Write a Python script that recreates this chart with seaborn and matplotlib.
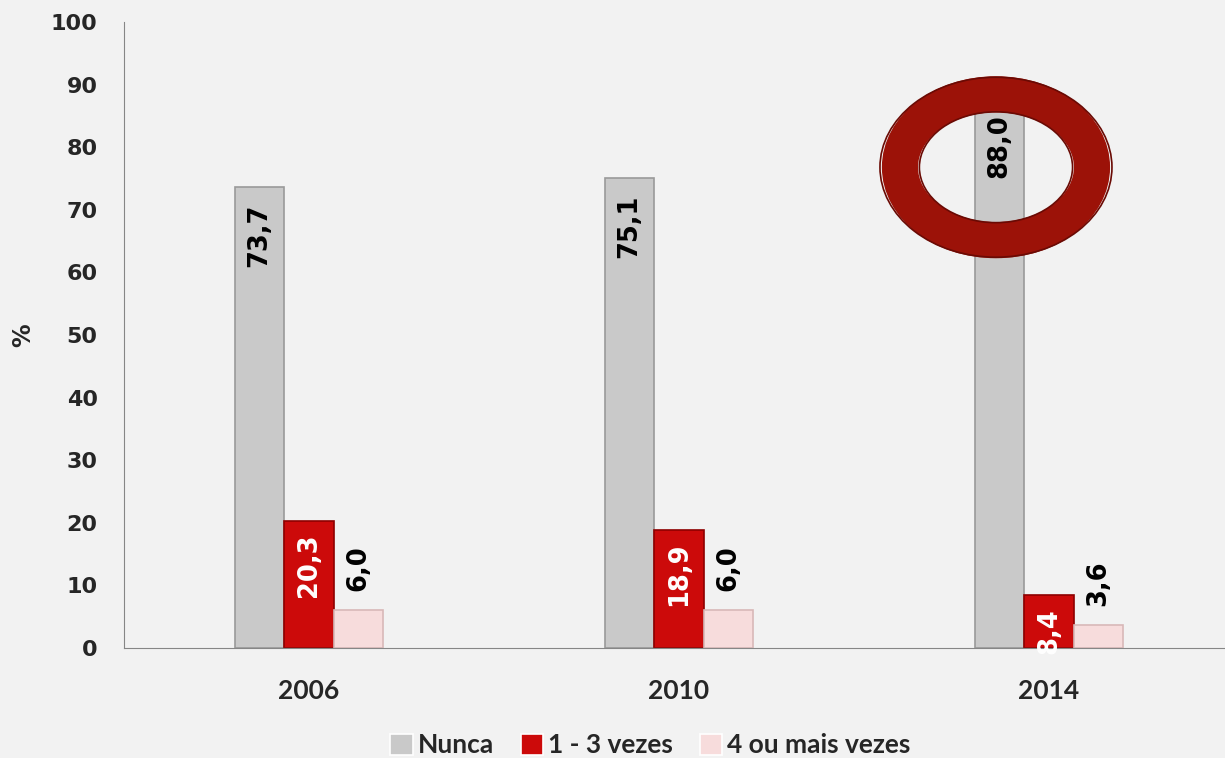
import pandas as pd
import seaborn as sns
import matplotlib.pyplot as plt
from matplotlib.patches import Ellipse

# chart values
anos = ['2006', '2010', '2014']
categorias = ['Nunca', '1 - 3 vezes', '4 ou mais vezes']
nunca = [73.7, 75.1, 88.0]
uma_a_tres = [20.3, 18.9, 8.4]
quatro_mais = [6.0, 6.0, 3.6]

cores = ['#C9C9C9', '#CC0A0A', '#F7DCDC']
bordas = ['#9A9A9A', '#8E0000', '#D8B8B8']

df = pd.DataFrame({
    'ano': anos * 3,
    'categoria': [c for c in categorias for _ in anos],
    'valor': nunca + uma_a_tres + quatro_mais,
})

sns.set_style('white')
plt.rcParams['font.family'] = ['DejaVu Sans']

fig = plt.figure(figsize=(12.25, 7.58), dpi=100, facecolor='#F2F2F2')
# axes runs past the right edge, as in the original
ax = fig.add_axes([124 / 1225, 1 - 648 / 758, 1110 / 1225, 626 / 758])
ax.set_facecolor('#F2F2F2')

sns.barplot(data=df, x='ano', y='valor', hue='categoria', hue_order=categorias,
            palette=cores, saturation=1, width=0.4, gap=0, linewidth=1.2,
            errorbar=None, ax=ax)

for cont, borda in zip(ax.containers, bordas):
    for p in cont:
        p.set_edgecolor(borda)

ax.set_ylim(0, 100)
ax.set_xlim(-0.5, 2.5)
ax.set_yticks(range(0, 101, 10))
ax.tick_params(axis='y', length=0, labelsize=16, pad=19)
ax.tick_params(axis='x', length=0, labelsize=19, pad=22)
for t in ax.get_yticklabels():
    t.set_fontweight('bold')
for t in ax.get_xticklabels():
    t.set_fontweight('bold')
    t.set_family('Lato')
ax.set_xlabel('')
ax.set_ylabel('%', fontsize=17, fontweight='bold')
ax.yaxis.set_label_coords(-89 / 1110, 0.5)

sns.despine(ax=ax)
ax.spines['left'].set_color('#868686')
ax.spines['bottom'].set_color('#868686')

# data labels, rotated
def fmt(v):
    return f'{v:.1f}'.replace('.', ',')

for i, cont in enumerate(ax.containers):
    for p in cont:
        h = p.get_height()
        cx = p.get_x() + p.get_width() / 2
        if i == 0:
            ax.annotate(fmt(h), (cx, h), xytext=(0, -12), textcoords='offset points',
                        rotation=90, ha='center', va='top', fontsize=18.5,
                        fontweight='bold', color='black')
        elif i == 1:
            ax.annotate(fmt(h), (cx, h), xytext=(0, -9), textcoords='offset points',
                        rotation=90, ha='center', va='top', fontsize=18.5,
                        fontweight='bold', color='white')
        else:
            ax.annotate(fmt(h), (cx, h), xytext=(0, 14), textcoords='offset points',
                        rotation=90, ha='center', va='bottom', fontsize=18.5,
                        fontweight='bold', color='black')

# highlight ring around the 2014 "Nunca" bar
alvo = ax.containers[0][2]
ex = alvo.get_x() + alvo.get_width() / 2 - 0.01
ey = alvo.get_height() - 11.2
ax.add_patch(Ellipse((ex, ey), 0.519, 23.3, fill=False, edgecolor='#9C1208',
                     linewidth=26, zorder=5, clip_on=False))
ax.add_patch(Ellipse((ex, ey), 0.627, 28.75, fill=False, edgecolor='#6A0A04',
                     linewidth=1.2, zorder=6, clip_on=False))
ax.add_patch(Ellipse((ex, ey), 0.414, 17.7, fill=False, edgecolor='#6A0A04',
                     linewidth=1.2, zorder=6, clip_on=False))

leg = ax.legend(loc='upper center', bbox_to_anchor=(0.531, 1 - 720 / 758),
                bbox_transform=fig.transFigure, ncol=3, frameon=False,
                handlelength=0.85, handleheight=0.85, handletextpad=0.2,
                columnspacing=1.0, borderpad=0, prop={'family': 'Lato',
                                                      'weight': 'bold', 'size': 19})

fig.savefig('out.png', dpi=100, facecolor=fig.get_facecolor())
